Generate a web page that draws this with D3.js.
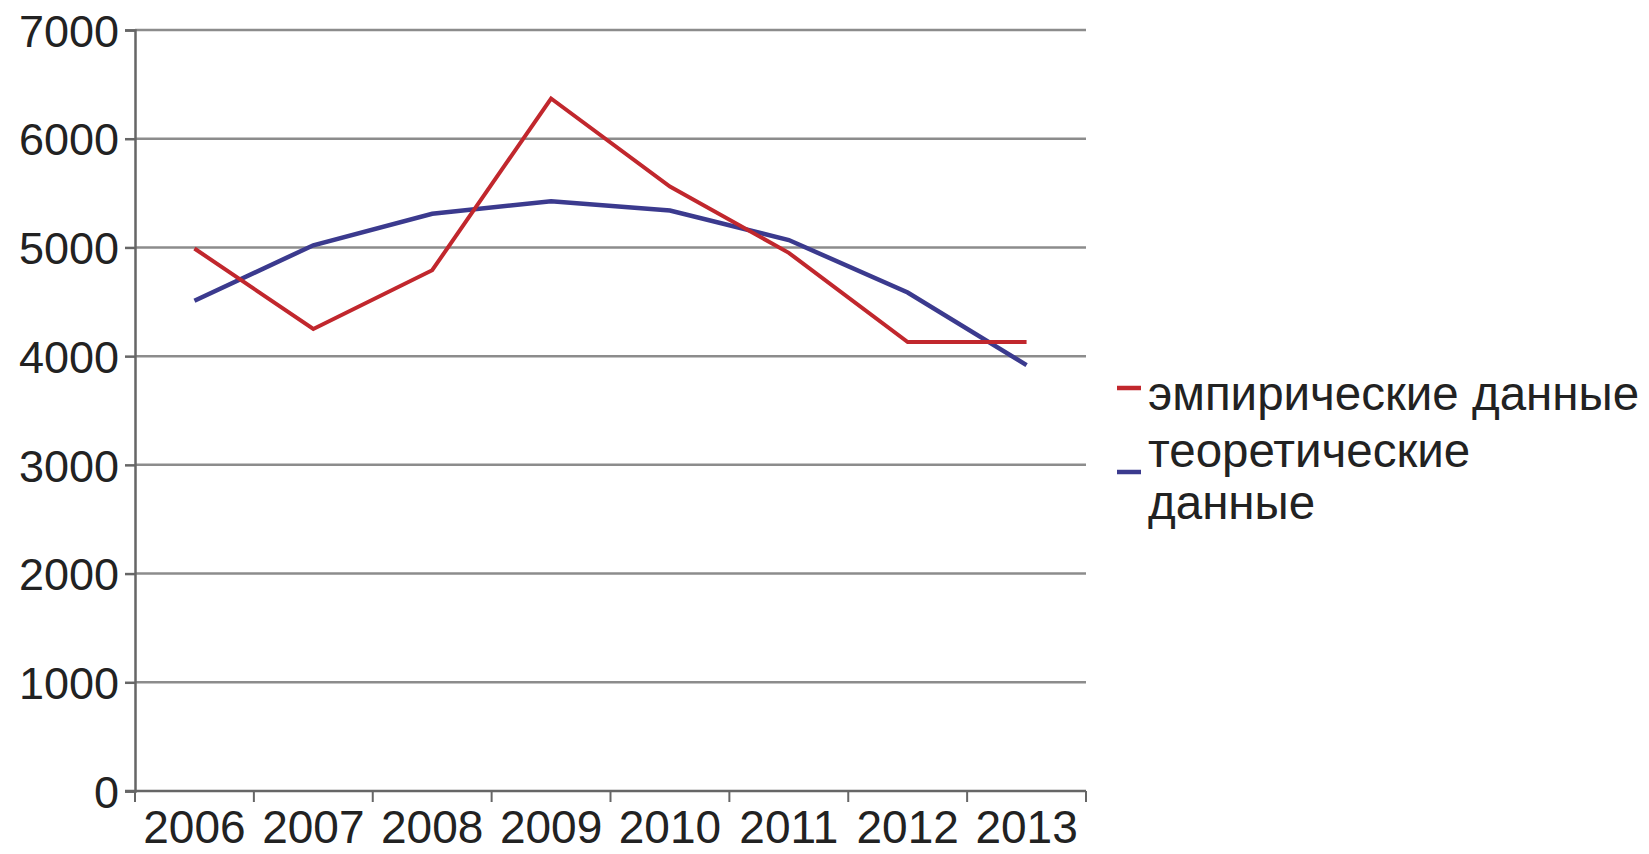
<!DOCTYPE html>
<html>
<head>
<meta charset="utf-8">
<script src="https://cdnjs.cloudflare.com/ajax/libs/d3/7.8.5/d3.min.js"></script>
<style>
  body { margin: 0; background: #fff; }
  text { font-family: "Liberation Sans", Arial, sans-serif; fill: #222; }
</style>
</head>
<body>
<div id="chart"></div>
<script>
var years = ["2006", "2007", "2008", "2009", "2010", "2011", "2012", "2013"];
var empirical = [4990, 4250, 4790, 6370, 5560, 4950, 4130, 4130];
var theoretical = [4510, 5020, 5310, 5425, 5340, 5068, 4585, 3918];
var yTicks = [0, 1000, 2000, 3000, 4000, 5000, 6000, 7000];
var seriesNames = ["эмпирические данные", "теоретические данные"];
var seriesColors = ["#c1272d", "#3b3a8e"];

var width = 1649, height = 854;
var margin = {top: 30, left: 135};
var plotW = 1086 - margin.left;
var plotH = 791 - margin.top;

var svg = d3.select("#chart")
    .append("svg")
    .attr("width", width)
    .attr("height", height);

var g = svg.append("g")
    .attr("transform", "translate(" + margin.left + "," + margin.top + ")");

var xScale = d3.scaleBand()
    .domain(years)
    .range([0, plotW])
    .padding(0);

var yScale = d3.scaleLinear()
    .domain([0, 7000])
    .range([plotH, 0]);

// grid lines
g.append("g")
    .selectAll("line")
    .data(yTicks.slice(1))
    .enter()
    .append("line")
    .attr("x1", 0)
    .attr("x2", plotW)
    .attr("y1", function (d) { return yScale(d); })
    .attr("y2", function (d) { return yScale(d); })
    .attr("stroke", "#8c8c8c")
    .attr("stroke-width", 2.5);

// y axis
var yAxis = d3.axisLeft(yScale)
    .tickValues(yTicks)
    .tickFormat(d3.format("d"))
    .tickSize(10)
    .tickPadding(6);

var yG = g.append("g").call(yAxis);
yG.select(".domain").attr("stroke", "#666").attr("stroke-width", 2.5);
yG.selectAll(".tick line").attr("stroke", "#666").attr("stroke-width", 2.5);
yG.selectAll(".tick text")
    .style("font-size", "45px")
    .attr("fill", "#222")
    .attr("dy", "0.36em");

// x axis, ticks on category boundaries
var xAxisG = g.append("g")
    .attr("transform", "translate(0," + plotH + ")");

xAxisG.append("line")
    .attr("x1", -10)
    .attr("x2", plotW)
    .attr("stroke", "#666")
    .attr("stroke-width", 2.5);

xAxisG.selectAll("line.tick")
    .data(years.concat(["end"]))
    .enter()
    .append("line")
    .attr("class", "tick")
    .attr("x1", function (d, i) { return i < years.length ? xScale(d) : plotW; })
    .attr("x2", function (d, i) { return i < years.length ? xScale(d) : plotW; })
    .attr("y1", 0)
    .attr("y2", 11)
    .attr("stroke", "#666")
    .attr("stroke-width", 2);

xAxisG.selectAll("text")
    .data(years)
    .enter()
    .append("text")
    .attr("x", function (d) { return xScale(d) + xScale.bandwidth() / 2; })
    .attr("y", 52)
    .attr("text-anchor", "middle")
    .style("font-size", "46px")
    .text(function (d) { return d; });

// lines
var line = d3.line()
    .x(function (d, i) { return xScale(years[i]) + xScale.bandwidth() / 2; })
    .y(function (d) { return yScale(d); });

g.append("path")
    .datum(theoretical)
    .attr("fill", "none")
    .attr("stroke", seriesColors[1])
    .attr("stroke-width", 4.5)
    .attr("d", line);

g.append("path")
    .datum(empirical)
    .attr("fill", "none")
    .attr("stroke", seriesColors[0])
    .attr("stroke-width", 4)
    .attr("d", line);

// legend
var legend = svg.append("g");

legend.append("line")
    .attr("x1", 1117).attr("x2", 1141)
    .attr("y1", 388).attr("y2", 388)
    .attr("stroke", seriesColors[0])
    .attr("stroke-width", 4.5);

legend.append("text")
    .attr("x", 1148)
    .attr("y", 410)
    .style("font-size", "47.5px")
    .text(seriesNames[0]);

legend.append("line")
    .attr("x1", 1117).attr("x2", 1141)
    .attr("y1", 472).attr("y2", 472)
    .attr("stroke", seriesColors[1])
    .attr("stroke-width", 4.5);

var t2 = legend.append("text")
    .attr("x", 1148)
    .attr("y", 467)
    .style("font-size", "47.5px");
t2.append("tspan").attr("x", 1148).text(seriesNames[1].split(" ")[0]);
t2.append("tspan").attr("x", 1148).attr("dy", 52).text(seriesNames[1].split(" ")[1]);
</script>
</body>
</html>
